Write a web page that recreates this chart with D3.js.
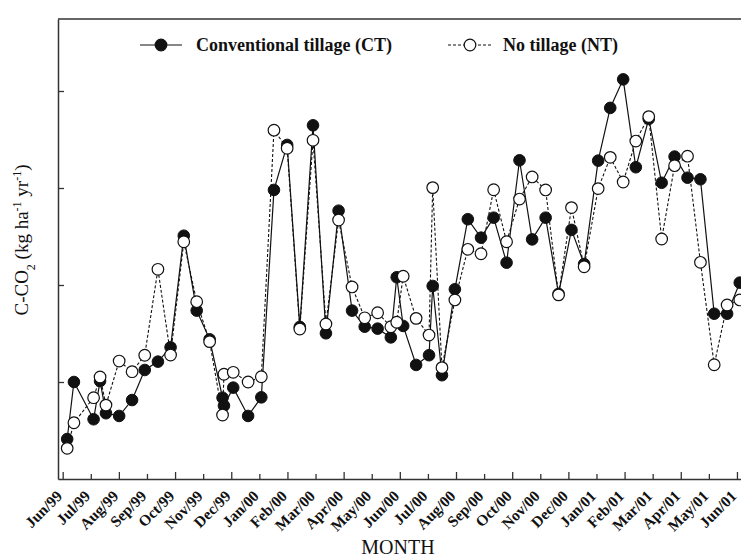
<!DOCTYPE html>
<html>
<head>
<meta charset="utf-8">
<script src="https://cdn.jsdelivr.net/npm/d3@7"></script>
<style>
  body { margin: 0; background: #fff; }
  svg { display: block; }
</style>
</head>
<body>
<svg class="chart" width="741" height="557"></svg>
<script>

// month labels of the x axis (one tick per month, Jun/99 .. Jun/01)
var months = ["Jun/99","Jul/99","Aug/99","Sep/99","Oct/99","Nov/99","Dec/99",
              "Jan/00","Feb/00","Mar/00","Apr/00","May/00","Jun/00","Jul/00",
              "Aug/00","Sep/00","Oct/00","Nov/00","Dec/00","Jan/01","Feb/01",
              "Mar/01","Apr/01","May/01","Jun/01"];

// sampling dates, in months after 1 Jun 1999
var sampleMonth = [0.16,0.40,1.10,1.33,1.54,2.01,2.47,2.92,3.39,3.84,
                   4.31,4.77,5.23,5.69,5.74,6.07,6.60,7.07,7.52,7.99,
                   8.44,8.91,9.37,9.82,10.30,10.75,11.21,11.68,11.89,12.12,
                   12.58,13.04,13.17,13.50,13.96,14.42,14.89,15.34,15.80,16.26,
                   16.71,17.19,17.65,18.11,18.56,19.06,19.49,19.95,20.40,20.86,
                   21.32,21.78,22.24,22.70,23.19,23.65,24.10];

// conventional tillage (CT)
var ctValues = [2.06,5.00,3.08,5.05,3.39,3.25,4.07,5.62,6.05,6.79,
                12.54,8.68,7.20,4.19,3.78,4.71,3.25,4.21,14.90,17.22,
                7.84,18.23,7.51,13.83,8.68,7.85,7.75,7.30,10.40,7.89,
                5.88,6.38,9.95,5.35,9.78,13.39,12.44,13.47,11.15,16.43,
                12.35,13.47,9.54,12.84,11.08,16.41,19.13,20.60,16.07,18.56,
                15.27,16.62,15.53,15.45,8.52,8.52,10.12];

// no tillage (NT)
var ntValues = [1.58,2.90,4.19,5.26,3.81,6.08,5.53,6.38,10.81,6.39,
                12.23,9.14,7.08,3.30,5.40,5.50,5.00,5.27,17.98,17.05,
                7.73,17.46,7.99,13.35,9.90,8.31,8.57,7.85,8.08,10.45,
                8.28,7.42,15.02,5.74,9.23,11.84,11.61,14.91,12.23,14.43,
                15.57,14.90,9.49,13.99,10.94,14.97,16.58,15.31,17.42,18.68,
                12.37,16.15,16.64,11.17,5.89,8.97,9.23];

// y ticks (no labels printed on the original)
var yTicks = [5, 10, 15, 20];

var svg = d3.select("svg.chart"),
    margin = { top: 19, right: 0, bottom: 78, left: 58 },
    iwidth = 693,
    iheight = +svg.attr("height") - margin.top - margin.bottom,
    g = svg.append("g").attr("transform", "translate(" + margin.left + "," + margin.top + ")");

var serif = "'Liberation Serif', 'Times New Roman', serif";

var x = d3.scaleLinear()
    .domain([-0.167, 24.5])
    .range([0, iwidth]);

var y = d3.scaleLinear()
    .domain([0, iheight / 97 * 5])
    .range([iheight, 0]);

var ct = sampleMonth.map((t, i) => ({ t: t, v: ctValues[i] }));
var nt = sampleMonth.map((t, i) => ({ t: t, v: ntValues[i] }));

var line = d3.line()
    .x(d => x(d.t))
    .y(d => y(d.v));

// frame top line
g.append("line")
    .attr("x1", 0).attr("x2", iwidth)
    .attr("y1", 0).attr("y2", 0)
    .attr("stroke", "#333").attr("stroke-width", 1.5);

// x axis
var xAxis = g.append("g")
    .attr("transform", "translate(0," + iheight + ")")
    .call(d3.axisBottom(x)
        .tickValues(d3.range(months.length))
        .tickSizeOuter(0)
        .tickFormat(i => months[i]));

xAxis.select(".domain").attr("stroke", "#333").attr("stroke-width", 1.5);
xAxis.selectAll(".tick line")
    .attr("stroke", "#333").attr("stroke-width", 1.3)
    .attr("y2", (d, i) => i % 2 == 0 ? -7 : -5);
xAxis.selectAll(".tick text")
    .attr("x", 0).attr("y", 0).attr("dy", 0)
    .attr("transform", "translate(0,18) rotate(-45)")
    .style("text-anchor", "end")
    .style("font-family", serif)
    .style("font-weight", "bold")
    .style("font-size", "15.5px")
    .attr("fill", "#111");

// y axis
var yAxis = g.append("g")
    .call(d3.axisLeft(y)
        .tickValues(yTicks)
        .tickSizeInner(-6)
        .tickSizeOuter(0)
        .tickFormat(""));
yAxis.select(".domain").attr("stroke", "#333").attr("stroke-width", 1.5);
yAxis.selectAll(".tick line").attr("stroke", "#333").attr("stroke-width", 1.3);

// lines
g.append("path").datum(ct)
    .attr("d", line)
    .attr("fill", "none")
    .attr("stroke", "#111")
    .attr("stroke-width", 1.2);

g.append("path").datum(nt)
    .attr("d", line)
    .attr("fill", "none")
    .attr("stroke", "#111")
    .attr("stroke-width", 1.1)
    .attr("stroke-dasharray", "3,2");

// markers
g.append("g").selectAll("circle")
    .data(ct)
    .enter().append("circle")
      .attr("cx", d => x(d.t))
      .attr("cy", d => y(d.v))
      .attr("r", 5.8)
      .attr("fill", "#111")
      .attr("stroke", "#111")
      .attr("stroke-width", 1);

g.append("g").selectAll("circle")
    .data(nt)
    .enter().append("circle")
      .attr("cx", d => x(d.t))
      .attr("cy", d => y(d.v))
      .attr("r", 5.8)
      .attr("fill", "#fff")
      .attr("stroke", "#111")
      .attr("stroke-width", 1.2);

// axis titles
svg.append("text")
    .attr("x", 398).attr("y", 554)
    .attr("text-anchor", "middle")
    .style("font-family", serif)
    .style("font-size", "20px")
    .attr("fill", "#111")
    .text("MONTH");

var ylab = svg.append("text")
    .attr("transform", "translate(28,240) rotate(-90)")
    .attr("text-anchor", "middle")
    .style("font-family", serif)
    .style("font-size", "19px")
    .attr("fill", "#111");
ylab.append("tspan").text("C-CO");
ylab.append("tspan").text("2").attr("baseline-shift", "sub").style("font-size", "12px");
ylab.append("tspan").text(" (kg ha");
ylab.append("tspan").text("-1").attr("baseline-shift", "super").style("font-size", "12px");
ylab.append("tspan").text(" yr");
ylab.append("tspan").text("-1").attr("baseline-shift", "super").style("font-size", "12px");
ylab.append("tspan").text(")");

// legend
var legend = [
  { label: "Conventional tillage (CT)", x0: 140, x1: 182, cx: 161, tx: 196, fill: "#111", dash: null },
  { label: "No tillage (NT)", x0: 448, x1: 492, cx: 470, tx: 503, fill: "#fff", dash: "3,2" }
];

var lg = svg.append("g").selectAll("g")
    .data(legend)
    .enter().append("g");

lg.append("line")
    .attr("x1", d => d.x0).attr("x2", d => d.x1)
    .attr("y1", 45).attr("y2", 45)
    .attr("stroke", "#111")
    .attr("stroke-width", d => d.dash ? 1.1 : 1.2)
    .attr("stroke-dasharray", d => d.dash);

lg.append("circle")
    .attr("cx", d => d.cx).attr("cy", 45).attr("r", 5.8)
    .attr("fill", d => d.fill)
    .attr("stroke", "#111").attr("stroke-width", 1.2);

lg.append("text")
    .attr("x", d => d.tx).attr("y", 45)
    .attr("dy", "0.35em")
    .style("font-family", serif)
    .style("font-weight", "bold")
    .style("font-size", "18px")
    .attr("fill", "#111")
    .text(d => d.label);

</script>
</body>
</html>
